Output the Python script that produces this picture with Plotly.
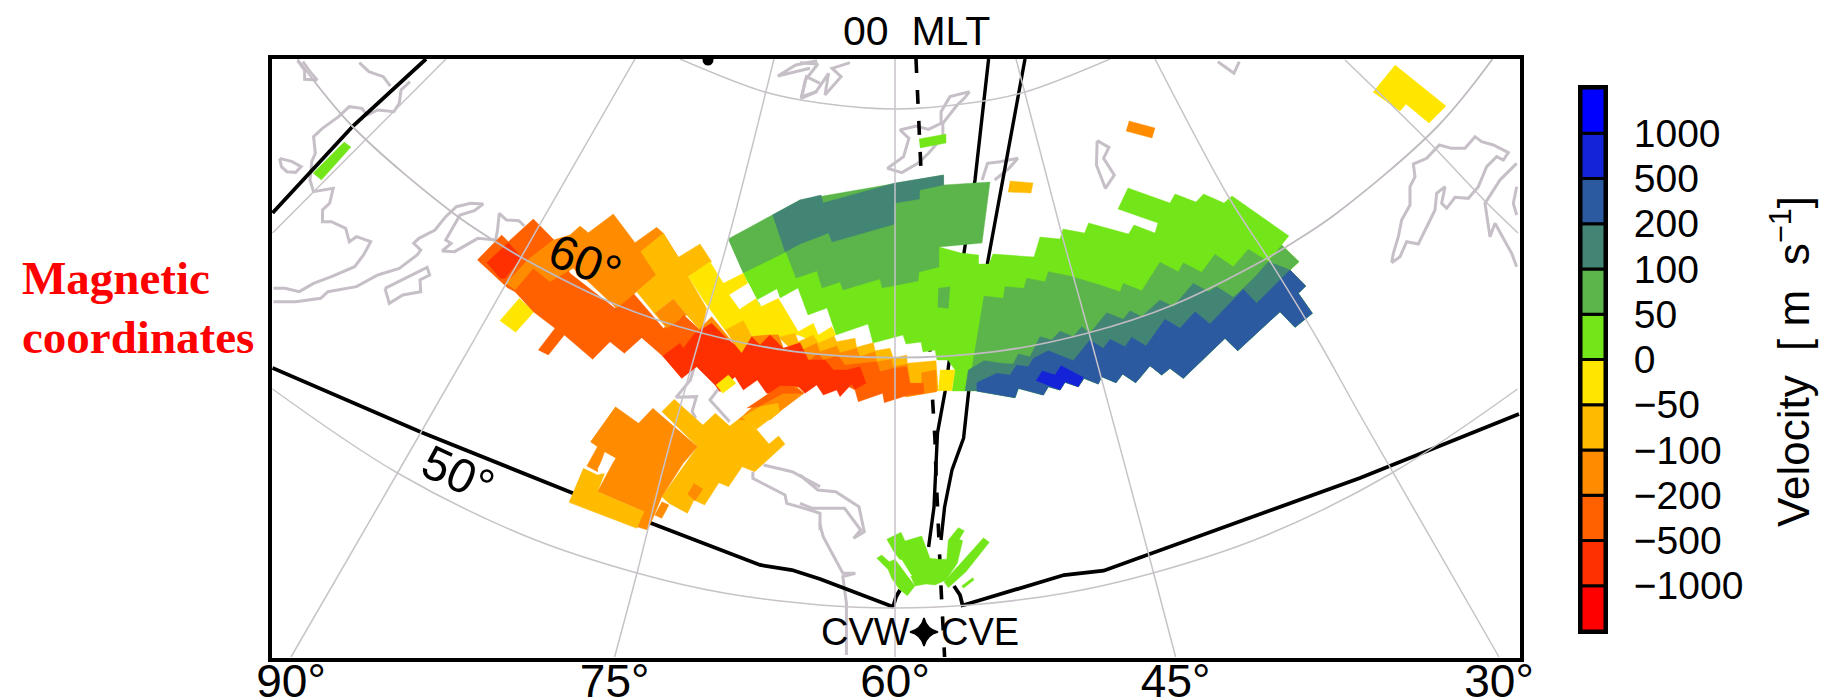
import plotly.graph_objects as go

W, H = 1828, 698
FRAME_L, FRAME_R, FRAME_T, FRAME_B = 272, 1520, 59, 658
BAR_L, BAR_R, BAR_T, BAR_B = 1581, 1605, 88, 631

# velocity scale
LEVEL_LABELS = ["−1000", "−500", "−200", "−100", "−50", "0", "50", "100", "200", "500", "1000"]
LEVEL_COLORS = ["#FF0000", "#FF3000", "#FF6000", "#FF8C00", "#FFBB00", "#FFE600",
                "#73E619", "#5BB54A", "#428575", "#2C5AA0", "#1423D8", "#0000FF"]
R2, R1, O5, O2, O1, Y0, G0, G5, T1, B2, B5, B1 = LEVEL_COLORS

# longitude labels and where each meridian meets the lower frame
LON_LABELS = ["90°", "75°", "60°", "45°", "30°"]
LON_FEET = [291, 614.6, 895, 1175.6, 1499]

# map reading frames: (origin x, origin y, scale x, scale y)
Z1 = (260, 40, 2.8, 3); Z2 = (800, 40, 2.8, 3); Z3 = (260, 340, 2.8, 3); Z4 = (800, 340, 2.8, 3)
Z7 = (470, 200, 3, 3); Z8 = (680, 220, 3, 3); Z9 = (960, 220, 3, 3); Z10 = (1300, 40, 3, 3); Z12 = (820, 510, 3, 3)
MAP = (0, 0, 1, 1)

# graticule, map units
MERIDIAN_90 = [(291,657),(397.5,473),(474,340),(538.6,226.7),(635,59)]
MERIDIAN_75 = [(614.6,657),(637,573),(663.6,467),(699,340),(728,240),(774,59)]
MERIDIAN_60 = [(895,59),(895,657)]
MERIDIAN_45 = [(1016,59),(1062.5,237),(1091,340),(1153.6,573),(1175.6,657)]
MERIDIAN_30 = [(1155,59),(1228.6,197),(1268,258),(1318,340),(1360,415),(1499,657)]
MERIDIAN_105 = [(446,59),(272.5,233)]
MERIDIAN_15 = [(1345,60),(1425,138),(1487,203),(1518,233)]
ARC_60 = [(297.5,59),(353,127),(453,213),(496,242),(522.5,258),(617,305),(701.7,333),(795,351.7),(895,357.7),
          (995,351.7),(1088,333),(1173,305),(1267.5,258),(1294,242),(1337,213),(1437,127),(1492.5,59)]
ARC_70 = [(680,59),(765,92),(820,103),(895,109),(970,103),(1025,92),(1110,59)]
ARC_50 = [(272.5,389),(397.5,473),(528,537),(637,573),(724,593),(820,605),(895,608),(970,605),(1066,593),
          (1153,573),(1262,537),(1392,473),(1517.5,389)]

# black boundary curves
EDGE_NW = [(272.5,213),(353,126),(426,59)]
EDGE_SW = [(272.5,368),(420.7,432),(572.5,493),(651,523),(760,565),(792,570),(820,579),(893.6,607)]
EDGE_SE = [(964,605),(1064,575),(1103.6,570.7),(1360,478),(1519,414)]
EDGE_ARC_W = [(893,607),(896,597),(900,590)]
EDGE_ARC_E = [(954,586),(960,595),(963,607)]
SOLID_A = [(988.6,59),(975,180),(964,253),(945,392),(937.5,433),(934,507),(928.6,547)]
SOLID_B = [(1025,59),(987.5,263),(968.6,392),(963.6,438),(952,470),(944.6,507),(941,540)]
DASHED = [(916,59),(921,173),(925,260),(933,407),(935,440),(936,473),(937.5,507),(939,553),(941,587),(944.6,657)]

# coastlines
COASTS = [
 (Z1, [(105,62),(125,90),(125,118),(160,120),(140,95),(120,65)]),
 (Z1, [(278,68),(305,95),(345,110),(365,138)]),
 (Z1, [(420,125),(395,150),(390,190),(375,215),(330,210),(300,225),(285,205),(250,200),(220,230),(175,265),(150,290),
       (155,340),(145,365),(140,420),(150,455),(205,445),(195,490),(175,510),(175,545),(200,545),(240,565),(250,605),
       (270,590),(310,605),(290,645),(265,680),(200,710),(150,730),(110,755),(70,745),(38,745)]),
 (Z1, [(38,785),(100,785),(170,775),(190,755),(270,740),(330,705),(390,685),(440,645),(450,630),(430,610),(445,595),
       (490,570),(520,530),(550,500),(590,490),(625,492),(600,512),(560,525),(520,600),(535,610),(510,633),(545,635),
       (610,595),(660,600),(665,570),(670,520),(690,540),(725,542),(740,558)]),
 (Z1, [(55,355),(90,365),(115,380),(100,397),(75,395),(60,380),(55,355)]),
 (Z1, [(350,745),(468,682),(475,705),(448,720),(450,755),(400,765),(362,790),(350,745)]),
 (Z1, [(1560,62),(1500,75),(1450,108),(1500,95),(1540,85)]),
 (Z1, [(1568,130),(1530,110),(1515,175),(1560,155)]),
 (Z2, [(0,68),(50,72),(15,120),(5,170),(45,155),(80,100),(70,165),(115,110),(90,85),(140,68)]),
 (Z2, [(475,155),(420,170),(395,215),(395,250),(360,268),(325,258),(280,270),(305,295),(290,350),(245,385),(285,398),
       (330,370),(360,340),(400,290),(400,250),(440,195),(460,175),(475,155)]),
 (Z2, [(510,420),(525,370),(560,365),(610,355),(585,385),(545,420)]),
 (Z2, [(832,302),(865,322),(850,355),(880,405),(855,445),(830,375),(832,302)]),
 (Z2, [(1170,65),(1215,100),(1230,65)]),
 (Z10, [(275,668),(300,650),(320,605),(355,612),(405,510),(410,460),(435,440),(425,490),(440,505),(465,472),(505,475),
        (535,440),(560,380),(590,350),(610,360),(625,338),(580,315),(545,305),(525,290),(495,325),(455,325),(418,315),
        (380,355),(340,372),(345,410),(330,440),(330,495),(305,540),(295,590),(280,640),(275,668)]),
 (Z10, [(650,680),(635,640),(585,550),(570,590),(555,490),(600,420),(650,370)]),
 (Z10, [(650,440),(640,490),(650,525)]),
 (Z3, [(1215,85),(1205,120),(1165,172),(1222,170),(1210,215),(1220,235)]),
 (Z3, [(1285,145),(1260,180),(1315,245)]),
 (Z3, [(1410,375),(1490,395),(1568,440)]),
 (Z3, [(1380,395),(1380,415),(1470,465),(1475,490),(1540,510),(1568,520),(1568,570)]),
 (Z4, [(0,405),(50,450),(100,455),(165,500),(180,575),(150,595),(170,570),(125,505),(35,505),(0,490)]),
 (Z4, [(55,550),(65,590),(120,700),(155,700),(120,710),(130,790),(130,945)]),
]

# velocity cells, east side
EAST_OUTER = [(0,513),(50,513),(165,533),(175,505),(250,525),(265,500),(300,510),(315,487),(355,500),(372,475),
              (415,492),(425,470),(468,488),(488,462),(527,488),(570,437),(605,465),(630,445),(670,475),(795,355),
              (833,392),(960,275),(1005,322),(1057,280),(1015,220),(1037,198),(990,150),(1017,125),(965,75),(988,48)]
GREEN_TOP = [(1289,236),(1232,196),(1224,203),(1203.6,194),(1196,202),(1175,194),(1170,203),(1128,188),(1118,209),
             (1158,223),(1155,233),(1134,225),(1128.6,234),(1088.6,223),(1084.6,233),(1063,229),(1060,239),(1040,237),
             (1034,257),(993,254),(989,264),(978.6,264),(978.6,255),(961,253),(939,247),(800,240),(743,273),(760,305),
             (777,290),(780,298),(798,288),(808,315),(827,308),(833,326),(836,335),(868,324),(873,343),(903,335),
             (906,344),(921,342),(923,352),(935,350),(937,360),(948,360),(955,370),(952,391)]
BAND50_TOP = [(18,513),(35,450),(72,228),(130,235),(135,200),(192,205),(200,175),(255,185),(265,155),(330,168),
              (420,195),(480,215),(490,190),(545,212),(600,127),(655,155),(670,128),(725,157),(765,103),(820,140),
              (865,88),(925,125),(965,75)]
BAND100_TOP = [(15,513),(25,450),(72,422),(125,430),(160,432),(175,402),(210,410),(240,350),(275,360),(300,333),
               (340,350),(365,320),(390,340),(440,278),(490,298),(510,272),(545,290),(600,240),(640,260),(700,190),
               (745,215),(770,200),(820,232),(850,205),(890,165),(925,125),(990,150)]
BAND200_TOP = [(50,488),(110,460),(150,465),(170,435),(205,440),(220,415),(265,392),(340,422),(390,360),(430,385),
               (450,358),(495,380),(515,352),(558,378),(615,298),(660,325),(705,275),(750,312),(850,208),(890,250),(990,150)]
PATCH500 = [(228,482),(247,453),(285,465),(303,437),(370,472),(355,500),(315,485),(300,510)]

# velocity cells, north centre
NORTH50 = [(728,239),(772.5,215),(800,200),(943.6,175),(943.6,185),(990,182),(982,243),(939,247),(939,267),(919,272),
           (918,281),(882,288),(880,279),(843,290),(840,282),(822,288),(817,271),(796,278),(786,252),(743,273)]
NORTH100 = [(772.5,215),(800,200),(821,195),(823,203),(895,183),(943.6,175),(943.6,185),(919.6,190),(919.6,199),
            (895,203),(895,224),(832,242),(828.6,233),(800,244),(785,252)]
ISLAND50 = [(775,205),(810,200),(805,265),(773,262)]

# velocity cells, west side
W_YELLOW = [(148,295),(90,362),(137,397),(192,335)]
W_500 = [(22,180),(95,105),(115,125),(190,57),(250,118),(300,220),(435,325),(490,280),(580,385),(640,345),(700,400),
         (780,420),(700,480),(635,535),(578,468),(515,413),(463,460),(420,425),(368,478),(283,405),(235,465),(205,450),
         (255,385),(190,335),(135,275),(110,262)]
W_200 = [(108,250),(175,178),(250,120),(300,105),(330,78),(355,98),(430,42),(495,128),(560,82),(580,100),(625,172),
         (560,225),(440,325),(360,250),(310,205),(240,245),(190,205),(135,270)]
W_1000 = [(50,188),(115,128),(155,172),(105,235),(90,235)]
W_100 = [(512,155),(580,100),(625,172),(690,132),(725,185),(655,230),(710,325),(695,395),(650,345),(610,297),(555,340),
         (590,385),(500,275),(558,225)]
W_200B = [(555,340),(610,297),(650,345),(590,385)]
W_500B = [(610,385),(640,345),(695,395),(665,430)]
Y_MAIN = [(25,170),(90,125),(130,190),(190,160),(205,195),(240,258),(295,235),(355,335),(400,310),(415,345),(455,320),
          (468,345),(415,370),(355,345),(295,350),(235,375),(190,305),(135,330),(70,240)]
HOLE_A = [(148,225),(205,190),(228,235),(178,267)]
HOLE_B = [(232,240),(290,208),(298,232),(245,258)]
Y_PATCH100 = [(135,330),(190,302),(228,370),(185,400),(160,365)]
Y_PATCH200 = [(45,340),(95,290),(165,375),(185,405),(215,350),(270,345),(295,345),(310,385),(240,385),(130,350)]
S_100 = [(295,352),(345,340),(355,365),(400,345),(415,370),(462,348),(470,365),(525,355),(530,382),(580,368),(585,392),
         (630,385),(640,415),(680,405),(682,430),(728,425),(768,422),(775,512),(680,530),(600,500),(400,450)]
S_200 = [(215,350),(270,345),(295,345),(310,385),(360,370),(365,390),(410,370),(420,395),(470,378),(480,398),(530,385),
         (540,410),(585,395),(590,425),(635,418),(640,440),(682,432),(690,490),(725,490),(725,458),(768,450),(770,515),
         (680,530),(600,500),(400,450),(240,400)]
S_500 = [(380,430),(415,400),(430,420),(475,408),(495,435),(540,430),(590,425),(600,455),(640,445),(680,440),(690,490),
         (730,490),(732,520),(685,525),(613,548),(608,520),(535,545),(525,510),(450,470)]
S_1000 = [(-52,408),(0,370),(10,385),(45,340),(95,310),(135,350),(165,375),(185,400),(215,350),(240,375),(270,345),
          (310,385),(360,368),(385,420),(435,420),(460,450),(500,450),(540,440),(558,490),(525,508),(515,492),(480,530),
          (470,510),(430,525),(410,495),(375,520),(355,500),(315,520),(260,520),(232,480),(190,510),(165,470),(120,515),
          (105,495),(50,440),(5,475)]
S_YELLOW_A = [(108,495),(145,465),(168,490),(128,520)]
S_YELLOW_B = [(780,450),(825,450),(815,512),(775,512)]
ARC_200 = [(175,600),(240,540),(300,500),(350,500),(372,520),(300,575),(265,600)]
ARC_500 = [(200,565),(300,498),(340,500),(372,520),(310,520),(235,560)]
ARC_100 = [(215,600),(265,570),(285,555),(300,575),(270,600)]

# velocity cells, south-west block
SW_100 = [(1125,215),(1160,178),(1240,255),(1275,220),(1315,258),(1350,230),(1390,268),(1425,312),(1452,288),(1470,312),
          (1385,395),(1350,380),(1312,440),(1285,428),(1245,495),(1215,480),(1197,520),(1145,490),(1125,470),(1225,320)]
SW_200 = [(995,200),(1060,250),(1100,205),(1160,260),(1225,320),(1185,370),(1125,470),(1100,535),(1085,570),(1055,560),
          (1075,515),(945,455),(995,355),(965,335),(945,395),(915,378),(945,320),(925,305)]
SW_100B = [(905,385),(945,405),(965,400),(945,455),(1075,515),(1055,565),(865,487)]
SW_HOLE = [(968,340),(995,355),(965,400),(945,388)]
SW_SPOT = [(1215,430),(1240,447),(1218,482),(1197,462)]
SW_FOOT = [(1125,485),(1145,495),(1125,535),(1105,525)]
SW_STRIP = [(1350,232),(1400,200),(1450,190),(1455,215),(1390,268)]

# isolated cells
CELL_NW = [(344,142),(351,147),(321.4,180),(313,173)]
CELL_N = [(919,139),(946,134),(946,143),(920,148)]
CELL_NE1 = [(1010,181),(1033,183),(1031,193),(1008,192)]
CELL_NE2 = [(1129,121),(1155,128),(1152,138),(1126,131)]
CELL_FAR = [(1395,65),(1446,106),(1429,123),(1406,104),(1400,111),(1373,92)]

# radar fan
FAN_A = [(200,88),(243,67),(255,93),(305,78),(330,145),(358,148),(380,148),(385,90),(415,53),(433,62),(418,88),(428,92),
         (412,160),(378,210),(345,225),(318,222),(285,228),(275,205),(240,150),(218,120)]
FAN_B = [(170,145),(185,135),(208,155),(225,148),(285,228),(262,257),(238,238),(215,205),(205,180)]
FAN_GAP = [(228,148),(245,150),(275,198),(265,200)]
FAN_C = [(490,83),(508,97),(438,185),(385,233),(372,215),(412,170)]
FAN_D = [(425,228),(458,203),(462,210),(430,235)]


def conv(pts, frame=MAP):
    ox, oy, sx, sy = frame
    return [ox + p[0] / sx for p in pts], [oy + p[1] / sy for p in pts]


fig = go.Figure()


def line(pts, color, width, frame=MAP, dash=None, shape="linear"):
    x, y = conv(pts, frame)
    fig.add_trace(go.Scatter(x=x, y=y, mode="lines", hoverinfo="skip", showlegend=False,
                             line=dict(color=color, width=width, dash=dash, shape=shape)))


def cell(pts, color, frame=MAP):
    x, y = conv(pts, frame)
    fig.add_trace(go.Scatter(x=x, y=y, mode="lines", fill="toself", fillcolor=color, hoverinfo="skip",
                             showlegend=False, line=dict(color=color, width=0.4)))


COAST = "#C6BFC7"
GRID = "#C8C2C9"
for frame, pts in COASTS:
    line(pts, COAST, 3, frame)
for pts in (EDGE_NW, EDGE_SW, EDGE_SE, EDGE_ARC_W, EDGE_ARC_E):
    line(pts, "black", 3.8)
line(SOLID_A, "black", 3.4)
line(SOLID_B, "black", 3.4)
line(DASHED, "black", 3.6, dash="14px,17px")

# cells, painted outer band first
east_pts = conv(EAST_OUTER, Z9)
east_map = list(zip(*east_pts))
cell(GREEN_TOP + east_map[1:29], G0)
cell(NORTH50, G5)
cell(NORTH100, T1)
cell(ISLAND50, G5, Z8)
cell(BAND50_TOP + EAST_OUTER[1:28][::-1], G5, Z9)
cell(BAND100_TOP + EAST_OUTER[1:26][::-1], T1, Z9)
cell(BAND200_TOP + EAST_OUTER[1:26][::-1], B2, Z9)
cell(PATCH500, B5, Z9)

cell(W_YELLOW, Y0, Z7)
cell(W_500, O5, Z7)
cell(W_200, O2, Z7)
cell(W_1000, R1, Z7)
cell(W_100, O1, Z7)
cell(W_200B, O2, Z7)
cell(W_500B, O5, Z7)
cell(Y_MAIN, Y0, Z8)
cell(HOLE_A, "white", Z8)
cell(HOLE_B, "white", Z8)
cell(Y_PATCH200, O2, Z8)
cell(Y_PATCH100, O1, Z8)
cell(S_100, O1, Z8)
cell(S_200, O2, Z8)
cell(S_500, O5, Z8)
cell(S_1000, R1, Z8)
cell(S_YELLOW_A, Y0, Z8)
cell(S_YELLOW_B, Y0, Z8)

cell(SW_100, O1, Z3)
cell(SW_200, O2, Z3)
cell(SW_100B, O1, Z3)
cell(SW_HOLE, "white", Z3)
cell(SW_SPOT, O2, Z3)
cell(SW_FOOT, O2, Z3)
cell(ARC_200, O2, Z8)
cell(ARC_500, O5, Z8)
cell(ARC_100, O1, Z8)
cell(SW_STRIP, O1, Z3)

cell(CELL_NW, G0)
cell(CELL_N, G0)
cell(CELL_NE1, O1)
cell(CELL_NE2, O2)
cell(CELL_FAR, Y0)

cell(FAN_A, G0, Z12)
cell(FAN_B, G0, Z12)
cell(FAN_GAP, "white", Z12)
cell(FAN_C, G0, Z12)
cell(FAN_D, G0, Z12)

# graticule above the cells
for pts in (MERIDIAN_90, MERIDIAN_75, MERIDIAN_60, MERIDIAN_45, MERIDIAN_30, MERIDIAN_105, MERIDIAN_15, ARC_70, ARC_50):
    line(pts, GRID, 1.5, shape="spline")
line(ARC_60, "#C0BAC1", 1.8, shape="spline")

# radar site and small polar marker
fig.add_trace(go.Scatter(x=[924], y=[632], mode="markers", hoverinfo="skip", showlegend=False,
                         marker=dict(symbol="star-diamond", size=20, color="black", line=dict(color="black", width=1.5))))
fig.add_trace(go.Scatter(x=[708], y=[60], mode="markers", hoverinfo="skip", showlegend=False,
                         marker=dict(symbol="circle", size=11, color="black")))

# colour bar
fig.add_trace(go.Bar(x=[0] * 12, y=[1] * 12, base=list(range(12)), width=1, xaxis="x2", yaxis="y2",
                     marker=dict(color=LEVEL_COLORS, line=dict(color="black", width=3)),
                     hoverinfo="skip", showlegend=False))

FONT = "Liberation Sans"
fig.update_layout(
    width=W, height=H, margin=dict(l=0, r=0, t=0, b=0, pad=0), autosize=False,
    paper_bgcolor="white", plot_bgcolor="white", barmode="overlay", showlegend=False,
    xaxis=dict(domain=[FRAME_L / W, FRAME_R / W], range=[FRAME_L, FRAME_R], tickmode="array", automargin=False,
               tickvals=LON_FEET, ticktext=LON_LABELS, ticks="", showgrid=False, zeroline=False,
               showline=True, mirror=True, linecolor="black", linewidth=4, ticklabelstandoff=-20,
               tickfont=dict(family=FONT, size=46, color="black"), ticklabeloverflow="allow"),
    yaxis=dict(domain=[1 - FRAME_B / H, 1 - FRAME_T / H], range=[FRAME_B, FRAME_T], showticklabels=False, automargin=False,
               ticks="", showgrid=False, zeroline=False, showline=True, mirror=True, linecolor="black", linewidth=4),
    xaxis2=dict(domain=[BAR_L / W, BAR_R / W], range=[-0.5, 0.5], anchor="y2", showticklabels=False, ticks="", automargin=False,
                showgrid=False, zeroline=False, showline=True, mirror=True, linecolor="black", linewidth=3),
    yaxis2=dict(domain=[1 - BAR_B / H, 1 - BAR_T / H], range=[0, 12], anchor="x2", side="right", tickmode="array", automargin=False,
                tickvals=list(range(1, 12)), ticktext=LEVEL_LABELS, ticks="", showgrid=False, zeroline=False,
                showline=True, mirror=True, linecolor="black", linewidth=3, ticklabelstandoff=18,
                tickfont=dict(family=FONT, size=39, color="black")),
)


def note(text, x, y, size, color="black", family=FONT, rot=0, anchor="center"):
    fig.add_annotation(text=text, x=x / W, y=1 - y / H, xref="paper", yref="paper", showarrow=False,
                       font=dict(family=family, size=size, color=color), textangle=rot, xanchor=anchor,
                       yanchor="middle")


note("00\u00a0\u00a0MLT", 916, 31, 41)
note("CVW", 912, 632, 38, anchor="right")
note("CVE", 939, 632, 38, anchor="left")
note("60°", 585, 261, 48, rot=22)
note("50°", 459, 474, 48, rot=25)
note("<b>Magnetic</b>", 20, 278, 47, "#FF0000", "Liberation Serif", anchor="left")
note("<b>coordinates</b>", 20, 337, 47, "#FF0000", "Liberation Serif", anchor="left")
note("Velocity\u00a0\u00a0[\u00a0m\u00a0\u00a0s<sup>−1</sup>]", 1790, 362, 44, rot=-90)

fig.write_html("out.html", config={"displayModeBar": False},
               post_script="document.body.style.margin='0';document.documentElement.style.overflow='hidden';")
